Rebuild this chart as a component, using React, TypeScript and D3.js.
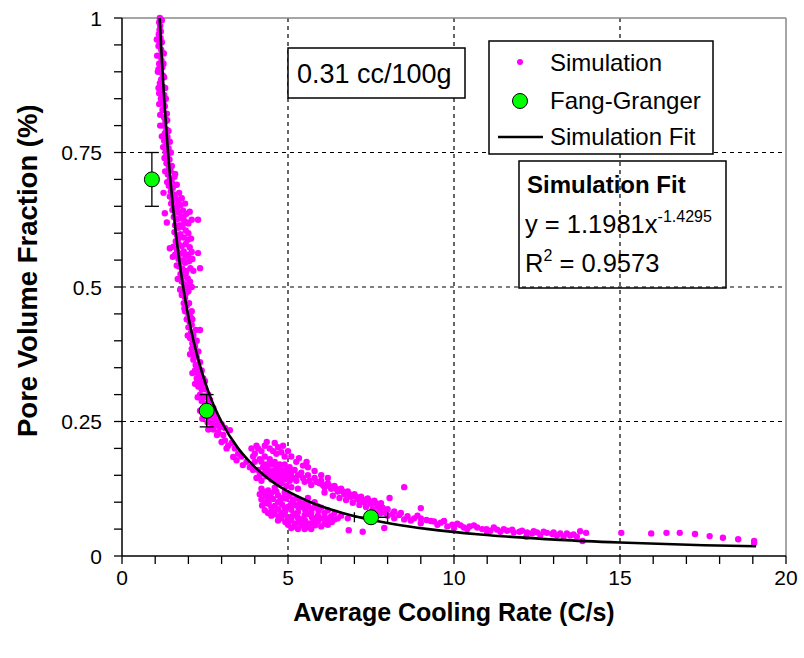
import React from "react";
import * as d3 from "d3";

// ---------- DATA ----------
const xTickValues = [0, 5, 10, 15, 20];
const xTickLabels = ["0", "5", "10", "15", "20"];
const yTickValues = [0, 0.25, 0.5, 0.75, 1];
const yTickLabels = ["0", "0.25", "0.5", "0.75", "1"];

// Simulation scatter, split by region
const simSteep: [number, number][] = [
  [1.14, 1.0], [1.12, 0.992], [1.15, 0.985], [1.13, 0.978], [1.11, 0.97], [1.16, 0.963],
  [1.13, 0.956], [1.1, 0.948], [1.18, 0.941], [1.26, 0.934], [1.14, 0.93], [1.19, 0.922],
  [1.12, 0.915], [1.21, 0.908], [1.16, 0.9], [1.23, 0.893], [1.18, 0.886], [1.14, 0.879],
  [1.24, 0.872], [1.2, 0.865], [1.27, 0.857], [1.17, 0.85], [1.25, 0.843], [1.29, 0.836],
  [1.22, 0.829], [1.35, 0.822], [1.27, 0.815], [1.31, 0.808], [1.24, 0.8], [1.34, 0.793],
  [1.29, 0.786], [1.37, 0.779], [1.27, 0.772], [1.34, 0.765], [1.4, 0.758], [1.31, 0.751],
  [1.37, 0.744], [1.43, 0.737], [1.34, 0.73], [1.41, 0.723], [1.46, 0.716], [1.38, 0.709],
  [1.2, 0.996], [1.17, 0.975], [1.2, 0.955], [1.22, 0.935], [1.25, 0.915], [1.1, 0.905],
  [1.27, 0.89], [1.12, 0.86], [1.3, 0.87], [1.15, 0.82], [1.32, 0.85], [1.36, 0.81],
  [1.2, 0.78], [1.4, 0.79], [1.24, 0.76], [1.44, 0.77], [1.28, 0.74], [1.47, 0.75],
  [1.3, 0.715], [1.5, 0.725], [1.36, 0.695], [1.58, 0.705], [1.05, 0.96], [1.06, 0.93],
  [1.08, 0.9], [1.1, 0.87], [1.12, 0.84], [1.15, 0.8],
];

const simMid: [number, number][] = [
  [1.44, 0.7], [1.5, 0.695], [1.41, 0.688], [1.53, 0.684], [1.47, 0.678], [1.25, 0.675],
  [1.56, 0.672], [1.44, 0.668], [1.52, 0.662], [1.62, 0.665], [1.7, 0.66], [1.48, 0.655],
  [1.58, 0.652], [1.66, 0.648], [1.76, 0.652], [1.52, 0.643], [1.62, 0.64], [1.72, 0.638],
  [1.84, 0.642], [1.94, 0.636], [2.04, 0.64], [1.29, 0.637], [1.56, 0.63], [1.66, 0.626],
  [1.78, 0.628], [1.88, 0.622], [2.0, 0.618], [2.29, 0.625], [1.35, 0.62], [1.6, 0.615],
  [1.7, 0.61], [1.82, 0.612], [1.92, 0.605], [1.58, 0.602], [1.66, 0.596], [1.76, 0.598],
  [1.86, 0.592], [1.98, 0.588], [1.62, 0.585], [1.7, 0.58], [1.8, 0.576], [1.92, 0.58],
  [2.04, 0.574], [1.44, 0.572], [1.66, 0.568], [1.75, 0.562], [1.86, 0.566], [1.96, 0.558],
  [2.29, 0.563], [1.53, 0.556], [1.7, 0.552], [1.8, 0.548], [1.9, 0.545], [2.02, 0.548],
  [2.12, 0.552], [1.72, 0.538], [1.82, 0.534], [1.94, 0.53], [2.06, 0.535], [2.35, 0.535],
  [1.76, 0.524], [1.86, 0.52], [1.98, 0.516], [1.8, 0.51], [1.88, 0.505], [1.96, 0.5],
  [1.84, 0.494], [1.92, 0.488], [2.0, 0.492],
  [1.6, 0.71], [1.65, 0.69], [1.72, 0.675], [1.8, 0.665], [1.9, 0.655], [1.85, 0.63],
  [1.95, 0.62], [2.1, 0.625], [2.0, 0.6], [2.08, 0.59], [1.75, 0.615], [1.7, 0.59],
  [1.55, 0.575], [1.6, 0.56], [1.9, 0.56], [2.1, 0.565], [2.0, 0.56], [1.65, 0.54],
  [1.85, 0.55], [2.15, 0.53], [1.68, 0.515], [1.92, 0.525], [2.05, 0.51], [1.75, 0.495],
  [2.1, 0.5],
];

const simLower: [number, number][] = [
  [1.8, 0.485], [1.9, 0.48], [1.86, 0.47], [1.95, 0.465], [2.02, 0.47], [1.9, 0.455],
  [2.0, 0.45], [2.06, 0.445], [1.95, 0.44], [2.04, 0.435], [2.1, 0.43], [2.0, 0.425],
  [2.35, 0.42], [2.08, 0.415], [2.15, 0.41], [2.05, 0.405], [2.12, 0.395], [2.2, 0.39],
  [2.1, 0.385], [2.18, 0.375], [2.25, 0.37], [2.15, 0.365], [2.22, 0.355], [2.3, 0.35],
  [2.2, 0.345], [2.28, 0.34], [2.36, 0.335], [2.25, 0.33], [2.33, 0.325], [2.42, 0.32],
  [2.3, 0.315], [2.4, 0.31], [2.5, 0.31], [2.35, 0.3], [2.45, 0.297], [2.55, 0.295],
  [2.4, 0.288], [2.52, 0.283], [2.62, 0.28], [2.45, 0.275], [2.58, 0.27], [2.7, 0.268],
  [2.5, 0.26], [2.65, 0.257], [2.78, 0.255], [2.58, 0.248], [2.72, 0.245], [2.85, 0.243],
  [2.95, 0.24], [3.1, 0.238], [2.75, 0.235], [2.9, 0.23], [3.25, 0.234], [2.86, 0.225],
  [3.05, 0.225], [3.1, 0.215], [3.0, 0.212], [3.3, 0.21], [3.2, 0.205], [3.15, 0.2],
  [3.4, 0.2], [3.5, 0.19], [3.35, 0.184], [3.6, 0.185], [3.45, 0.178], [3.75, 0.175],
  [3.64, 0.169], [3.85, 0.165], [3.95, 0.16],
  [1.88, 0.46], [2.1, 0.455], [2.12, 0.44], [1.98, 0.41], [2.22, 0.42], [2.25, 0.4],
  [2.05, 0.375], [2.3, 0.38], [2.35, 0.36], [2.12, 0.34], [2.4, 0.345], [2.45, 0.33],
  [2.2, 0.32], [2.5, 0.325], [2.6, 0.3], [2.28, 0.295], [2.65, 0.29], [2.35, 0.27],
  [2.75, 0.275], [2.8, 0.262], [2.42, 0.255], [2.9, 0.252], [2.6, 0.235], [3.0, 0.245],
];

const simCloud: [number, number][] = [
  [3.9, 0.2], [4.0, 0.19], [4.1, 0.2], [4.2, 0.195], [4.3, 0.205], [4.36, 0.212],
  [4.45, 0.2], [4.55, 0.195], [4.65, 0.19], [4.8, 0.193], [4.9, 0.185], [4.0, 0.175],
  [4.15, 0.18], [4.3, 0.185], [4.45, 0.18], [4.6, 0.175], [4.75, 0.17], [4.9, 0.17],
  [5.05, 0.165], [4.1, 0.16], [4.25, 0.165], [4.4, 0.16], [4.55, 0.158], [4.7, 0.155],
  [4.85, 0.152], [5.0, 0.15], [5.33, 0.182], [5.56, 0.175], [5.2, 0.16], [5.4, 0.155],
  [5.6, 0.15], [5.8, 0.145], [5.25, 0.14], [5.5, 0.138], [5.7, 0.132], [5.95, 0.135],
  [4.05, 0.145], [4.2, 0.14], [4.35, 0.148], [4.5, 0.142], [4.65, 0.138], [4.8, 0.135],
  [4.95, 0.13], [5.1, 0.128], [5.3, 0.125], [5.15, 0.145],
  [3.95, 0.185], [4.05, 0.205], [4.2, 0.175], [4.35, 0.17], [4.5, 0.17], [4.65, 0.165],
  [4.8, 0.16], [4.95, 0.16], [5.1, 0.155], [4.15, 0.15], [4.3, 0.155], [4.45, 0.15],
  [4.6, 0.148], [4.75, 0.145], [4.9, 0.142], [5.05, 0.14], [5.3, 0.15], [5.45, 0.145],
  [5.65, 0.14], [5.85, 0.138], [6.05, 0.132], [6.25, 0.13], [6.45, 0.125], [6.65, 0.12],
  [6.85, 0.115], [7.05, 0.11], [7.25, 0.105], [7.45, 0.102], [7.65, 0.098], [5.6, 0.165],
  [5.8, 0.158], [6.0, 0.15], [6.2, 0.145], [4.6, 0.21], [4.7, 0.202], [4.85, 0.205],
  [5.0, 0.195], [5.1, 0.185], [5.25, 0.175], [5.45, 0.168],
  [6.1, 0.128], [6.3, 0.125], [6.5, 0.12], [6.7, 0.115], [6.9, 0.11], [7.1, 0.105],
  [7.3, 0.1], [7.5, 0.097], [7.7, 0.093], [7.85, 0.09], [8.06, 0.108], [8.5, 0.128],
  [9.0, 0.089], [6.0, 0.14], [6.2, 0.135], [6.4, 0.13], [6.6, 0.125], [6.8, 0.12],
  [7.0, 0.115], [7.2, 0.11], [7.4, 0.107], [7.6, 0.103], [7.8, 0.098], [8.0, 0.087],
  [8.2, 0.083], [8.4, 0.08], [6.1, 0.118], [6.35, 0.112], [6.55, 0.108], [6.75, 0.104],
  [6.95, 0.099], [7.15, 0.095], [7.35, 0.091], [7.55, 0.087], [7.75, 0.084], [7.95, 0.08],
  [8.15, 0.078], [8.35, 0.076],
  // lower blob under the fit
  [4.2, 0.125], [4.4, 0.122], [4.6, 0.127], [4.15, 0.115], [4.32, 0.112], [4.5, 0.117],
  [4.7, 0.113], [4.9, 0.118], [4.2, 0.105], [4.37, 0.102], [4.55, 0.106], [4.76, 0.103],
  [4.95, 0.107], [5.15, 0.104], [5.35, 0.101], [4.22, 0.094], [4.42, 0.097], [4.6, 0.093],
  [4.82, 0.096], [5.02, 0.092], [5.2, 0.095], [5.42, 0.091], [5.6, 0.094], [5.8, 0.09],
  [4.3, 0.085], [4.52, 0.083], [4.7, 0.087], [4.92, 0.084], [5.1, 0.086], [5.3, 0.082],
  [5.52, 0.085], [5.7, 0.081], [5.92, 0.084], [6.1, 0.08], [4.5, 0.075], [4.72, 0.073],
  [4.9, 0.077], [5.12, 0.074], [5.3, 0.071], [5.5, 0.076], [5.72, 0.072], [5.9, 0.075],
  [6.12, 0.071], [6.3, 0.074], [6.5, 0.07], [4.7, 0.066], [4.92, 0.063], [5.1, 0.067],
  [5.3, 0.062], [5.52, 0.065], [5.7, 0.061], [5.9, 0.064], [6.1, 0.06], [6.32, 0.063],
  [5.0, 0.058], [5.2, 0.055], [5.42, 0.057], [5.6, 0.054], [5.82, 0.057], [6.0, 0.055],
  [6.83, 0.048], [7.25, 0.045], [7.9, 0.052],
  [4.25, 0.12], [4.45, 0.11], [4.65, 0.12], [4.85, 0.108], [5.05, 0.112], [5.25, 0.108],
  [4.3, 0.098], [4.5, 0.09], [4.7, 0.1], [4.9, 0.09], [5.1, 0.098], [5.3, 0.092],
  [5.5, 0.098], [5.7, 0.088], [5.9, 0.092], [4.4, 0.08], [4.6, 0.078], [4.8, 0.08],
  [5.0, 0.07], [5.2, 0.078], [5.4, 0.068], [5.6, 0.078], [5.8, 0.068], [6.0, 0.07],
  [6.2, 0.066], [6.4, 0.068], [4.8, 0.07], [5.0, 0.062], [5.2, 0.06], [5.4, 0.06],
  [5.6, 0.06], [5.8, 0.06], [6.2, 0.058], [5.1, 0.052], [5.3, 0.05], [5.5, 0.05],
  [5.7, 0.05], [6.6, 0.075], [6.8, 0.07], [6.4, 0.08], [6.2, 0.085], [6.0, 0.09],
  [5.8, 0.1], [5.6, 0.108],
];

const simTail: [number, number][] = [
  [8.6, 0.074], [8.8, 0.07], [9.17, 0.067], [9.4, 0.064], [9.6, 0.062], [9.95, 0.058],
  [10.2, 0.057], [10.47, 0.055], [10.7, 0.053], [10.98, 0.05], [11.3, 0.049],
  [11.6, 0.047], [11.97, 0.045], [12.2, 0.044], [12.5, 0.044], [12.8, 0.043],
  [12.96, 0.041], [13.2, 0.042], [13.5, 0.038], [13.7, 0.036], [13.98, 0.043],
  [13.87, 0.028], [12.18, 0.036], [11.0, 0.043], [10.0, 0.052], [9.0, 0.061],
  [12.6, 0.039], [13.3, 0.036], [11.4, 0.045], [10.4, 0.05],
  [8.5, 0.068], [8.7, 0.066], [9.0, 0.07], [9.3, 0.065], [9.5, 0.058], [9.8, 0.055],
  [10.1, 0.06], [10.3, 0.053], [10.6, 0.057], [10.85, 0.05], [11.1, 0.047], [11.2, 0.053],
  [11.5, 0.05], [11.8, 0.044], [11.75, 0.049], [12.05, 0.047], [12.35, 0.042], [12.4, 0.046],
  [12.7, 0.045], [13.0, 0.044], [13.1, 0.038], [13.4, 0.042], [13.6, 0.04], [13.8, 0.046],
  [8.2, 0.07], [8.0, 0.075], [7.8, 0.08], [7.6, 0.082], [8.9, 0.075], [9.7, 0.065],
  [15.04, 0.043], [15.94, 0.042], [16.4, 0.043], [16.8, 0.043], [17.26, 0.041],
  [17.7, 0.037], [18.1, 0.034], [18.56, 0.031], [19.04, 0.028], [19.04, 0.024],
];

const simulationPoints = [...simSteep, ...simMid, ...simLower, ...simCloud, ...simTail];

// Simulation fit (power trendline y = 1.1981 x^-1.4295)
const fitPoints: [number, number][] = [
  [1.135, 1.0], [1.176, 0.95], [1.222, 0.9], [1.271, 0.85], [1.327, 0.8], [1.388, 0.75],
  [1.456, 0.7], [1.534, 0.65], [1.622, 0.6], [1.724, 0.55], [1.843, 0.5], [1.984, 0.45],
  [2.154, 0.4], [2.366, 0.35], [2.634, 0.3], [2.993, 0.25], [3.499, 0.2], [3.8, 0.178],
  [4.28, 0.15], [4.6, 0.135], [5.0, 0.12], [5.68, 0.1], [6.64, 0.08], [8.12, 0.06],
  [9.23, 0.05], [10.79, 0.04], [13.19, 0.03], [14.99, 0.025], [17.52, 0.02], [19.1, 0.018],
];

// Fang-Granger measurements
const fgX = [0.9, 2.55, 7.5];
const fgY = [0.7, 0.27, 0.072];
const fgYErr = [0.05, 0.03, 0];
const fgXErr = [0, 0, 0.5];

// ---------- LAYOUT ----------
const W = 804;
const H = 658;
const L = 122;
const R = 786;
const T = 18;
const B = 556;
const FONT = "'Liberation Sans', Arial, Helvetica, sans-serif";

export default function App() {
  const x = d3.scaleLinear().domain([0, 20]).range([L, R]);
  const y = d3.scaleLinear().domain([0, 1]).range([B, T]);
  const xMinor = x.ticks(20);
  const yMinor = y.ticks(20);
  const line = d3
    .line<[number, number]>()
    .x((d) => x(d[0]))
    .y((d) => y(d[1]))
    .curve(d3.curveMonotoneX);

  return (
    <svg
      width={W}
      height={H}
      style={{ position: "absolute", left: 0, top: 0, background: "#fff" }}
      fontFamily={FONT}
    >
      <defs>
        <clipPath id="ytitleclip">
          <rect x={0} y={106} width={80} height={500} />
        </clipPath>
      </defs>
      <rect x={0} y={0} width={W} height={H} fill="#fff" />

      {/* gridlines */}
      {xTickValues.slice(1, -1).map((v) => (
        <line key={"gx" + v} x1={x(v)} x2={x(v)} y1={T} y2={B} stroke="#000" strokeWidth={1.2} strokeDasharray="4,4" />
      ))}
      {yTickValues.slice(1, -1).map((v) => (
        <line key={"gy" + v} x1={L} x2={R} y1={y(v)} y2={y(v)} stroke="#000" strokeWidth={1.2} strokeDasharray="4,4" />
      ))}

      {/* frame top/right */}
      <line x1={L} x2={R} y1={T} y2={T} stroke="#888" strokeWidth={1.5} />
      <line x1={R} x2={R} y1={T} y2={B} stroke="#888" strokeWidth={1.5} />

      {/* simulation points */}
      {simulationPoints.map((d, i) => (
        <circle key={"s" + i} cx={x(d[0])} cy={y(d[1])} r={3.2} fill="#ff00ff" />
      ))}

      {/* fit line */}
      <path d={line(fitPoints) || ""} fill="none" stroke="#000" strokeWidth={2.6} />

      {/* Fang-Granger error bars and markers */}
      {fgX.map((v, i) => (
        <g key={"fg" + i} stroke="#000" strokeWidth={1.3}>
          {fgYErr[i] > 0 && (
            <>
              <line x1={x(v)} x2={x(v)} y1={y(fgY[i] - fgYErr[i])} y2={y(fgY[i] + fgYErr[i])} />
              <line x1={x(v) - 7} x2={x(v) + 7} y1={y(fgY[i] - fgYErr[i])} y2={y(fgY[i] - fgYErr[i])} />
              <line x1={x(v) - 7} x2={x(v) + 7} y1={y(fgY[i] + fgYErr[i])} y2={y(fgY[i] + fgYErr[i])} />
            </>
          )}
          {fgXErr[i] > 0 && (
            <>
              <line x1={x(v - fgXErr[i])} x2={x(v + fgXErr[i])} y1={y(fgY[i])} y2={y(fgY[i])} />
              <line x1={x(v - fgXErr[i])} x2={x(v - fgXErr[i])} y1={y(fgY[i]) - 5} y2={y(fgY[i]) + 5} />
              <line x1={x(v + fgXErr[i])} x2={x(v + fgXErr[i])} y1={y(fgY[i]) - 5} y2={y(fgY[i]) + 5} />
            </>
          )}
        </g>
      ))}
      {fgX.map((v, i) => (
        <circle key={"fgm" + i} cx={x(v)} cy={y(fgY[i])} r={7.5} fill="#00ff00" stroke="#000" strokeWidth={1} />
      ))}

      {/* axes */}
      <line x1={L} x2={L} y1={T} y2={B} stroke="#000" strokeWidth={1.5} />
      <line x1={L} x2={R} y1={B} y2={B} stroke="#000" strokeWidth={1.5} />
      {yMinor.map((v) => (
        <line key={"yt" + v} x1={L - 8} x2={L} y1={y(v)} y2={y(v)} stroke="#000" strokeWidth={1.3} />
      ))}
      {xMinor.map((v) => (
        <line key={"xt" + v} x1={x(v)} x2={x(v)} y1={B} y2={B + 8} stroke="#000" strokeWidth={1.3} />
      ))}
      {yTickValues.map((v, i) => (
        <text key={"yl" + v} x={L - 20} y={y(v) + 7.5} textAnchor="end" fontSize={21} fill="#000">
          {yTickLabels[i]}
        </text>
      ))}
      {xTickValues.map((v, i) => (
        <text key={"xl" + v} x={x(v)} y={585} textAnchor="middle" fontSize={21} fill="#000">
          {xTickLabels[i]}
        </text>
      ))}

      {/* axis titles */}
      <text x={(L + R) / 2} y={621} textAnchor="middle" fontSize={25} fontWeight="bold" fill="#000">
        Average Cooling Rate (C/s)
      </text>
      <g clipPath="url(#ytitleclip)">
        <text
          transform="translate(37,437) rotate(-90)"
          textAnchor="start"
          fontSize={27.5}
          fontWeight="bold"
          fill="#000"
        >
          Pore Volume Fraction (%)
        </text>
      </g>

      {/* annotation box */}
      <rect x={288} y={48} width={177} height={50} fill="#fff" stroke="#000" strokeWidth={1.5} />
      <text x={297} y={83} fontSize={27} fill="#000">0.31 cc/100g</text>

      {/* legend */}
      <rect x={489} y={41} width={224} height={113} fill="#fff" stroke="#000" strokeWidth={1.5} />
      <circle cx={520} cy={62} r={3} fill="#ff00ff" />
      <text x={550} y={71} fontSize={24} fill="#000">Simulation</text>
      <circle cx={520} cy={101} r={7.5} fill="#00ff00" stroke="#000" strokeWidth={1} />
      <text x={550} y={109} fontSize={24} fill="#000">Fang-Granger</text>
      <line x1={498} x2={543} y1={137} y2={137} stroke="#000" strokeWidth={2.6} />
      <text x={550} y={145} fontSize={24} fill="#000">Simulation Fit</text>

      {/* fit equation box */}
      <rect x={519} y={161} width={207} height={127} fill="none" stroke="#000" strokeWidth={1.5} />
      <text x={527} y={193} fontSize={24} fontWeight="bold" fill="#000">Simulation Fit</text>
      <text x={525} y={233} fontSize={25.5} fill="#000">
        y = 1.1981x
        <tspan dy={-11} fontSize={16}>-1.4295</tspan>
      </text>
      <text x={525} y={272} fontSize={25.5} fill="#000">
        R
        <tspan dy={-11} fontSize={16}>2</tspan>
        <tspan dy={11}> = 0.9573</tspan>
      </text>
    </svg>
  );
}
